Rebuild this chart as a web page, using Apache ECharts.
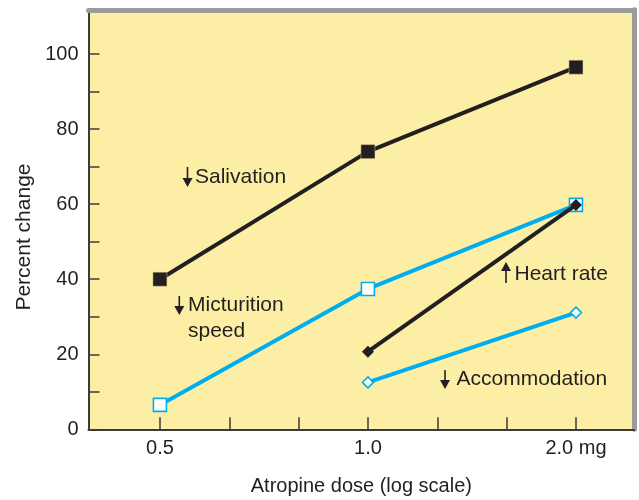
<!DOCTYPE html>
<html>
<head>
<meta charset="utf-8">
<script src="https://cdn.jsdelivr.net/npm/echarts@6/dist/echarts.min.js"></script>
<style>html,body{margin:0;padding:0;background:#fff}#c{width:639px;height:500px}</style>
</head>
<body>
<div id="c"></div>
<script>
// ---- data ----
const doses = [0.5, 1.0, 2.0];
const salivation = [40, 74, 96.5];
const micturition = [6.5, 37.4, 59.8];
const heartDoses = [1.0, 2.0];
const heartRate = [20.7, 59.8];
const accommodation = [12.5, 31.1];
const xTickSteps = [-3, -2, -1, 0, 1, 2, 3];          // ticks every 1/3 log2 unit
const xLabelDoses = [0.5, 1.0, 2.0];
const xLabelTexts = ['0.5', '1.0', '2.0 mg'];
const yTicks = [0, 10, 20, 30, 40, 50, 60, 70, 80, 90, 100];
const yLabels = [0, 20, 40, 60, 80, 100];

// log-scale position: 3 units per doubling
const pos = d => 3 * Math.log2(d);
const pts = (ds, vs) => ds.map((d, i) => [pos(d), vs[i]]);
const labelMap = {};
xLabelDoses.forEach((d, i) => { labelMap[Math.round(pos(d))] = xLabelTexts[i]; });

const INK = '#231F20', CYAN = '#00AEEF', FONT = '"Liberation Sans", Arial, sans-serif';
const chart = echarts.init(document.getElementById('c'), null, {renderer: 'canvas'});

const xMin = -4.03, xMax = 3.84, yMin = 0, yMax = 111.8;

function arrow(x, yTop, yBot, up) {
  const head = 9, hw = 5;
  const tipY = up ? yTop : yBot;
  const baseY = up ? yTop + head : yBot - head;
  return [
    {type: 'line', shape: {x1: x, y1: up ? baseY : yTop, x2: x, y2: up ? yBot : baseY},
     style: {stroke: INK, lineWidth: 1.6}, z: 10},
    {type: 'polygon', shape: {points: [[x - hw, baseY], [x + hw, baseY], [x, tipY]]},
     style: {fill: INK}, z: 10}
  ];
}
function label(x, y, text) {
  return {type: 'text', x: x, y: y, z: 10,
    style: {text: text, fill: INK, font: '21px ' + FONT, textVerticalAlign: 'middle', textAlign: 'left'}};
}

const graphics = [].concat(
  arrow(187.5, 167, 187, false), [label(195, 177, 'Salivation')],
  arrow(179.3, 296, 315, false), [label(188, 305.5, 'Micturition'), label(188, 331.5, 'speed')],
  arrow(506, 262, 283, true), [label(514.5, 274.5, 'Heart rate')],
  arrow(445, 370, 389, false), [label(456.5, 379.5, 'Accommodation')]
);

chart.setOption({
  animation: false,
  grid: {left: 88.5, right: 4.8, top: 9.8, bottom: 70.7, show: true,
         outerBoundsMode: 'none', containLabel: false,
         backgroundColor: '#FDEEA6', borderWidth: 0},
  xAxis: [{
    type: 'value', min: xMin, max: xMax, position: 'bottom',
    name: 'Atropine dose (log scale)', nameLocation: 'middle', nameGap: 47,
    nameTextStyle: {fontFamily: FONT, fontSize: 20, color: INK},
    axisLine: {show: true, onZero: false, lineStyle: {color: '#3b3b3b', width: 2}},
    axisTick: {show: true, inside: true, length: 12, customValues: xTickSteps,
               lineStyle: {color: '#3b3b3b', width: 1.5}},
    axisLabel: {customValues: xLabelDoses.map(pos), formatter: v => labelMap[Math.round(v)] || '',
                fontFamily: FONT, fontSize: 20, color: INK, margin: 9},
    splitLine: {show: false}
  }, {
    type: 'value', min: xMin, max: xMax, position: 'top',
    axisLine: {show: true, onZero: false, lineStyle: {color: '#9b9b9b', width: 5}},
    axisTick: {show: false}, axisLabel: {show: false}, splitLine: {show: false}
  }],
  yAxis: [{
    type: 'value', min: yMin, max: yMax, position: 'left',
    name: 'Percent change', nameLocation: 'middle', nameGap: 54,
    nameTextStyle: {fontFamily: FONT, fontSize: 21, color: INK, padding: [0, 35, 0, 0]},
    axisLine: {show: true, onZero: false, lineStyle: {color: '#3b3b3b', width: 2}},
    axisTick: {show: true, inside: true, length: 11, customValues: yTicks,
               lineStyle: {color: '#3b3b3b', width: 1.5}},
    axisLabel: {customValues: yLabels, fontFamily: FONT, fontSize: 20, color: INK, margin: 10},
    splitLine: {show: false}
  }, {
    type: 'value', min: yMin, max: yMax, position: 'right',
    axisLine: {show: true, onZero: false, lineStyle: {color: '#9b9b9b', width: 5}},
    axisTick: {show: false}, axisLabel: {show: false}, splitLine: {show: false}
  }],
  series: [
    {name: 'Salivation', type: 'line', data: pts(doses, salivation),
     symbol: 'rect', symbolSize: 14, lineStyle: {color: INK, width: 4},
     itemStyle: {color: INK, borderColor: '#d8c98a', borderWidth: 0.5}, z: 3},
    {name: 'Micturition speed', type: 'line', data: pts(doses, micturition),
     symbol: 'rect', symbolSize: 13, lineStyle: {color: CYAN, width: 4},
     itemStyle: {color: '#ffffff', borderColor: CYAN, borderWidth: 1.6}, z: 3},
    {name: 'Accommodation', type: 'line', data: pts(heartDoses, accommodation),
     symbol: 'diamond', symbolSize: 11, lineStyle: {color: CYAN, width: 4},
     itemStyle: {color: '#ffffff', borderColor: CYAN, borderWidth: 1.6}, z: 3},
    {name: 'Heart rate', type: 'line', data: pts(heartDoses, heartRate),
     symbol: 'diamond', symbolSize: 12, lineStyle: {color: INK, width: 4},
     itemStyle: {color: INK}, z: 4}
  ],
  graphic: graphics
});
</script>
</body>
</html>
